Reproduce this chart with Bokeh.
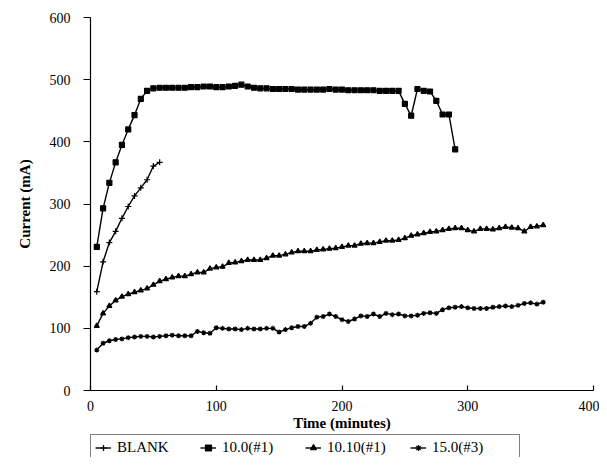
from bokeh.plotting import figure
from bokeh.layouts import column
from bokeh.models import Legend, LegendItem, Range1d, FixedTicker
from bokeh.embed import file_html
from bokeh.resources import INLINE

# Time grids (minutes)
t_blank = list(range(5, 60, 5))
t_100 = list(range(5, 295, 5))
t_1010 = list(range(5, 365, 5))
t_150 = list(range(5, 365, 5))

blank = [159, 207, 238, 256, 277, 296, 313, 326, 339, 361, 367]

s100 = [231, 293, 334, 367, 395, 420, 443, 469, 482, 486,
        487, 487, 487, 487, 487, 488, 488, 489, 489, 488,
        488, 489, 490, 492, 489, 487, 486, 486, 485, 485,
        485, 485, 484, 484, 484, 484, 484, 485, 484, 484,
        483, 483, 483, 483, 483, 482, 482, 482, 482, 461,
        442, 485, 482, 481, 466, 444, 444, 388]

s1010 = [104, 124, 136, 145, 151, 155, 158, 161, 164, 170, 176, 179, 182, 184, 184, 187, 190,
         190, 196, 198, 199, 205, 206, 208, 210, 210, 210, 213, 217, 217, 219, 222,
         224, 224, 224, 226, 227, 228, 229, 231, 233, 233, 236, 237, 237, 239, 241,
         241, 242, 245, 249, 251, 253, 255, 256, 258, 260, 261, 261, 258, 256, 260,
         260, 259, 261, 263, 262, 261, 256, 263, 264, 266]

s150 = [65, 76, 80, 82, 83, 85, 86, 87, 87, 86, 87, 88, 89, 88, 88, 88, 95,
        93, 92, 101, 100, 99, 99, 98, 100, 99, 99, 100, 100, 94, 98, 101,
        103, 103, 108, 118, 119, 123, 119, 114, 111, 115, 120, 119, 123, 119, 124,
        122, 123, 120, 120, 121, 124, 125, 124, 130, 133, 134, 135, 133, 132, 132,
        132, 134, 135, 136, 135, 137, 140, 141, 139, 142]

labels = ["BLANK", "10.0(#1)", "10.10(#1)", "15.0(#3)"]
x_ticks = [0, 100, 200, 300, 400]
y_ticks = [0, 100, 200, 300, 400, 500, 600]

FONT = "Liberation Serif"

p = figure(width=599, height=434, output_backend="svg", toolbar_location=None,
           x_range=Range1d(0, 400), y_range=Range1d(0, 600),
           min_border_left=88, min_border_right=6, min_border_top=17, min_border_bottom=44)
p.outline_line_color = None
p.grid.visible = False
p.background_fill_color = "white"
p.border_fill_color = "white"

series = [
    (t_blank, blank, "cross", 6),
    (t_100, s100, "square", 5),
    (t_1010, s1010, "triangle", 5),
    (t_150, s150, "asterisk", 5),
]
for tx, ty, mk, sz in series:
    p.line(tx, ty, line_color="black", line_width=1.4)
    p.scatter(tx, ty, marker=mk, size=sz, line_color="black", fill_color="black", line_width=1.2)

p.xaxis.ticker = FixedTicker(ticks=x_ticks)
p.yaxis.ticker = FixedTicker(ticks=y_ticks)
for ax in (p.xaxis[0], p.yaxis[0]):
    ax.minor_tick_line_color = None
    ax.axis_line_color = "black"
    ax.axis_line_width = 1.2
    ax.major_tick_line_color = "black"
    ax.major_tick_line_width = 1.2
    ax.major_label_text_font = FONT
    ax.major_label_text_font_size = "14px"
    ax.major_label_text_color = "black"
    ax.axis_label_text_font = FONT
    ax.axis_label_text_font_size = "15px"
    ax.axis_label_text_font_style = "bold"
    ax.axis_label_text_color = "black"

p.xaxis.axis_label = "Time (minutes)"
p.xaxis.major_tick_in = 5
p.xaxis.major_tick_out = 0
p.xaxis.major_label_standoff = 10
p.xaxis.axis_label_standoff = 1

p.yaxis.axis_label = "Current (mA)"
p.yaxis.major_tick_in = 0
p.yaxis.major_tick_out = 7
p.yaxis.major_label_standoff = 13
p.yaxis.axis_label_standoff = 14

# Legend strip below the chart; the series are drawn off-range so only the legend shows
pl = figure(width=599, height=23, output_backend="svg", toolbar_location=None,
            x_range=Range1d(0, 1), y_range=Range1d(0, 1),
            x_axis_type=None, y_axis_type=None,
            min_border_left=90, min_border_right=0, min_border_top=0, min_border_bottom=0)
pl.outline_line_color = None
pl.grid.visible = False
pl.border_fill_color = "white"
items = []
for (tx, ty, mk, sz), lab in zip(series, labels):
    r1 = pl.line(tx, ty, line_color="black", line_width=1.4)
    r2 = pl.scatter(tx, ty, marker=mk, size=sz - 1, line_color="black", fill_color="black", line_width=1.2)
    items.append(LegendItem(label=lab, renderers=[r1, r2]))

legend = Legend(items=items, orientation="horizontal", location="top_left",
                border_line_color="black", border_line_width=1.2,
                label_text_font=FONT, label_text_font_size="15px", label_text_color="black",
                glyph_width=16, glyph_height=15, label_height=15, label_width=83,
                label_standoff=6, spacing=0, padding=4, margin=0,
                background_fill_alpha=1.0)
pl.add_layout(legend, "center")

layout = column(p, pl, spacing=0)
open("out.html", "w").write(file_html(layout, INLINE))
